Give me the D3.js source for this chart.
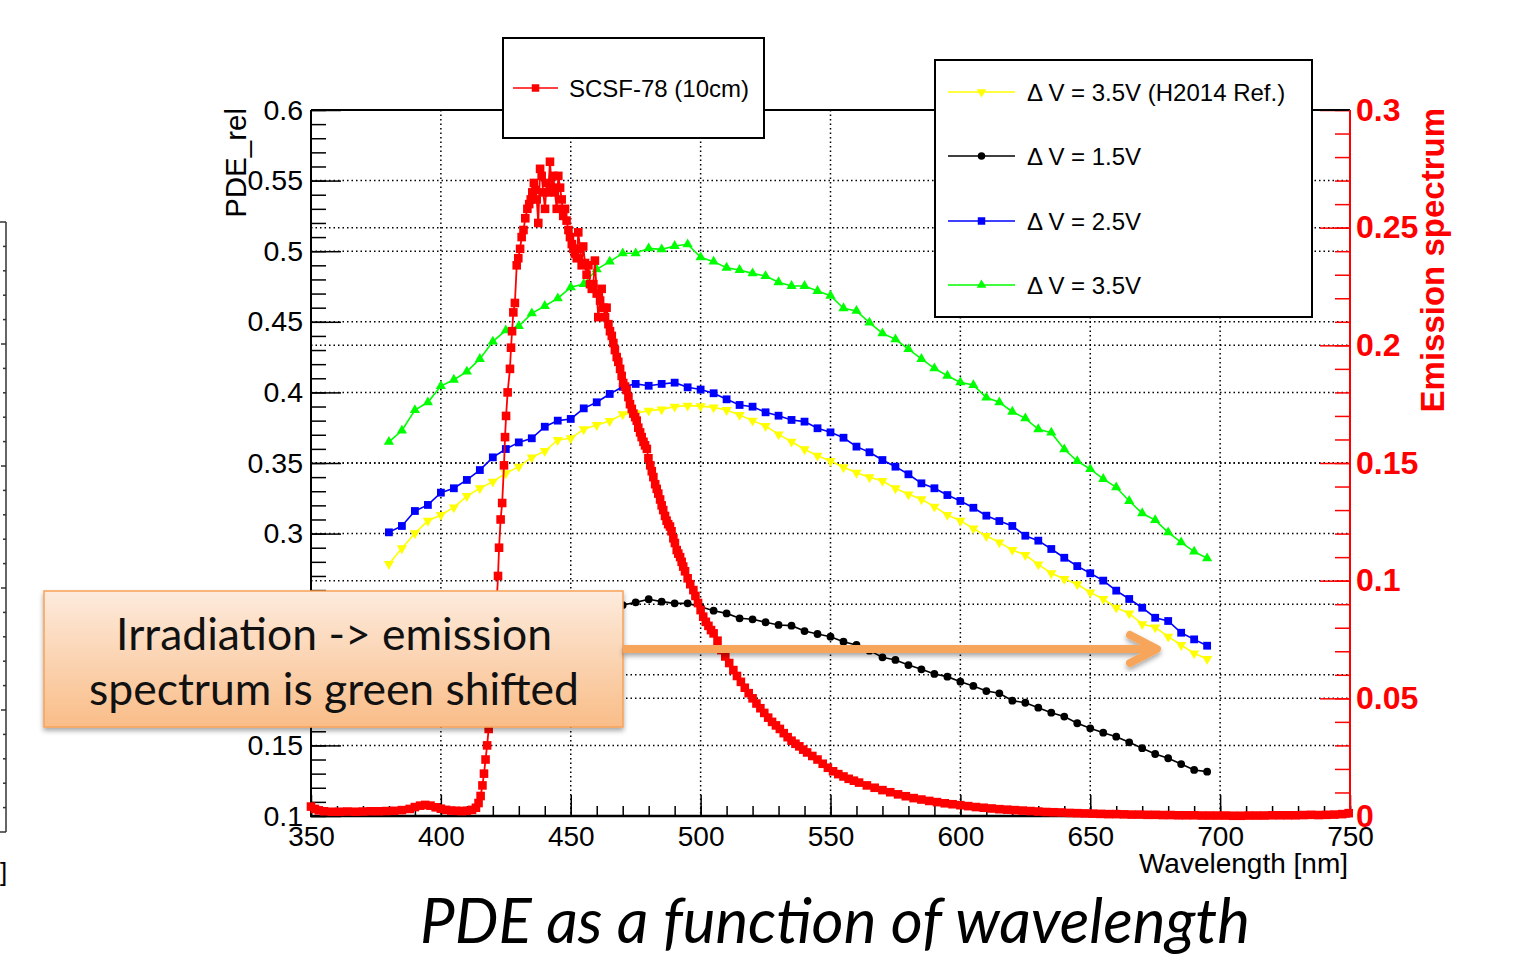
<!DOCTYPE html>
<html>
<head>
<meta charset="utf-8">
<script src="https://cdn.jsdelivr.net/npm/d3@7"></script>
<style>
body{margin:0;background:#fff;}
svg{display:block;}
</style>
</head>
<body>
<div id="chart"></div>
<script>
// PDE measurements, 5 nm steps
const pdeWl=[380,385,390,395,400,405,410,415,420,425,430,435,440,445,450,455,460,465,470,475,480,485,490,495,500,505,
    510,515,520,525,530,535,540,545,550,555,560,565,570,575,580,585,590,595,600,605,610,615,620,625,630,635,640,645,650,655,660,665,670,675,680,685,690,695];

const pdeRef35=[0.2785,0.2896,0.3002,0.3091,0.3132,0.3186,0.3266,0.3321,0.3368,0.3427,0.3474,0.3540,0.3585,0.3663,0.3675,0.3739,0.3769,0.3797,0.3845,0.3852,0.3871,0.3880,0.3899,0.3906,0.3903,0.3894,
    0.3875,0.3840,0.3800,0.3762,0.3703,0.3651,0.3597,0.3552,0.3514,0.3470,0.3431,0.3399,0.3373,0.3321,0.3278,0.3243,0.3191,0.3132,0.3091,0.3037,0.2983,0.2938,0.2884,0.2848,0.2782,0.2719,0.2678,0.2641,0.2584,0.2537,0.2475,0.2435,0.2359,0.2336,0.2270,0.2211,0.2152,0.2112];

const pde15=[0.188,0.191,0.197,0.200,0.205,0.207,0.211,0.215,0.220,0.224,0.227,0.229,0.233,0.236,0.237,0.241,0.244,0.247,
    0.2494,0.2513,0.2535,0.2518,0.2506,0.2506,0.2482,0.2454,0.2435,0.2400,0.2393,0.2372,0.2353,0.2348,0.2310,0.2289,0.2270,0.2234,0.2211,0.2171,
    0.2124,0.2105,0.2069,0.2039,0.2006,0.1987,0.1951,0.1921,0.1885,0.1869,0.1817,0.1802,0.1767,0.1732,0.1704,0.1657,0.1621,0.1590,0.1562,0.1522,
    0.1480,0.1439,0.1409,0.1368,0.1326,0.1314];

const pde25=[0.3009,0.3054,0.3160,0.3203,0.3290,0.3321,0.3380,0.3450,0.3540,0.3599,0.3646,0.3675,0.3757,0.3800,0.3812,0.3887,0.3930,0.3989,0.4040,0.4060,0.4047,0.4060,0.4069,0.4036,0.4020,0.3994,
    0.3951,0.3911,0.3899,0.3859,0.3835,0.3805,0.3793,0.3746,0.3717,0.3679,0.3616,0.3576,0.3521,0.3474,0.3420,0.3356,0.3321,0.3273,0.3231,0.3183,
    0.3127,0.3089,0.3054,0.2985,0.2950,0.2891,0.2829,0.2770,0.2719,0.2667,0.2596,0.2537,0.2475,0.2404,0.2381,0.2298,0.2251,0.2206];

const pde35=[0.3650,0.3730,0.3875,0.3930,0.4045,0.4090,0.4147,0.4237,0.4360,0.4440,0.4470,0.4560,0.4612,0.4666,0.4744,0.4768,0.4872,0.4926,0.4985,0.4985,0.5020,0.5013,0.5037,0.5049,0.4957,0.4926,
    0.4883,0.4867,0.4843,0.4824,0.4780,0.4754,0.4754,0.4718,0.4685,0.4596,0.4577,0.4494,0.4418,0.4376,0.4307,0.4237,0.4170,0.4118,0.4071,0.4052,
    0.3963,0.3930,0.3863,0.3816,0.3739,0.3715,0.3597,0.3514,0.3457,0.3387,0.3328,0.3231,0.3144,0.3096,0.3009,0.2938,0.2872,0.2825];

// SCSF-78 emission spectrum (right axis)
const emWl=[350,351.5,353,355,358,361,364,367,370,373,376,379,382,385,388,390,392,394,396,398,400,402,404,406,408,410,412,413.5,414.5,415.3,
    416,416.6,417.2,417.8,418.4,419,419.6,420.2,420.8,421.4,422,422.4,423,423.6,424.3,424.7,425.1,425.7,426.6,427,427.4,427.9,428.5,429.2,429.8,
    430.5,431.1,431.8,432.5,433.3,434,434.6,435.2,435.8,436.4,436.9,437.5,438.2,438.8,439.4,440.1,440.7,441.3,442,442.7,443.3,443.9,444.6,
    445.2,445.9,446.5,447.1,447.8,448.4,449.1,449.7,450.4,451,451.6,452.3,452.9,453.6,454.2,454.8,455.5,456.1,456.8,457.4,458.1,458.7,459.3,
    460,460.6,461.3,461.9,462.6,463.2,463.8,464.5,465.1,465.8,466.4,467,467.7,468.3,469,469.6,470.2,470.9,471.5,472.2,472.8,473.5,474.1,474.8,
    475.4,476,476.7,477.3,478,478.6,479.3,479.9,480.6,481.2,481.8,482.5,483.1,483.7,484.4,485,485.6,486.3,486.9,487.5,488.2,488.8,489.5,490.1,
    490.8,491.4,492.1,492.7,493.3,494,495,496,497.2,498,499,500,501,502,503,504,505,506.5,508,509.5,511,512.6,514,515.5,517,518.5,520,521.5,
    523,524.5,526,527.5,529,530.5,532,533.5,535,536.5,538,539.5,541,543,545,547,549,551,553,555,557,559,561,564,567,570,573,576,579,582,585,
    588,591,594,597,600,603,606,609,612,615,618,621,624,627,630,633,636,639,642,645,648,651,654,657,660,663,666,669,672,675,678,681,684,687,
    690,693,696,699,702,705,708,711,714,717,720,723,726,729,732,735,738,741,744,747,749.5];
const emVal=[0.0040,0.0030,0.0024,0.0020,0.0018,0.0018,0.0019,0.0018,0.0019,0.0020,0.0020,0.0021,0.0022,0.0025,0.0030,0.0038,0.0044,0.0047,0.0044,0.0037,
    0.0031,0.0026,0.0023,0.0022,0.0021,0.0022,0.0026,0.0035,0.0055,0.0085,
    0.013,0.018,0.024,0.030,0.037,0.045,0.054,0.064,0.076,0.089,0.102,0.114,0.126,0.133,0.149,0.161,0.170,0.180,0.190,0.199,0.206,0.214,0.218,0.234,0.237,
    0.241,0.246,0.249,0.254,0.258,0.260,0.262,0.265,0.269,0.266,0.262,0.252,0.275,0.272,0.265,0.258,0.269,0.265,0.278,0.267,0.272,0.265,0.258,
    0.272,0.267,0.262,0.255,0.258,0.253,0.249,0.246,0.243,0.241,0.239,0.237,0.248,0.241,0.234,0.242,0.235,0.230,0.234,0.226,0.224,0.226,0.236,
    0.222,0.212,0.219,0.224,0.216,0.212,0.216,0.209,0.206,0.204,0.201,0.198,0.195,0.193,0.190,0.187,0.184,0.1825,0.181,0.178,0.175,0.173,0.171,0.1695,
    0.168,0.165,0.163,0.161,0.159,0.1575,0.156,0.152,0.149,0.1465,0.144,0.141,0.139,0.137,0.1345,0.132,0.130,0.1275,0.1255,0.124,0.123,0.121,0.118,0.116,
    0.113,0.1115,0.110,0.108,0.106,0.104,0.101,0.0985,0.096,0.0935,0.0905,0.0875,0.0847,0.0825,0.0808,0.079,0.0776,0.0745,0.0705,0.0678,0.065,0.062,0.0595,0.057,0.0545,0.0522,0.050,0.0478,
    0.0458,0.0438,0.0418,0.040,0.0385,0.037,0.0352,0.0335,0.032,0.0307,0.0296,0.0282,0.027,0.0255,0.024,0.0222,0.0205,0.019,0.0178,0.0168,0.0158,0.015,0.0142,0.013,0.012,0.011,0.0101,0.0092,0.0084,0.0076,0.007,
    0.0064,0.0059,0.0054,0.005,0.0046,0.0042,0.0038,0.0035,0.0032,0.0029,0.0027,0.0025,0.0023,0.0021,0.0019,0.0017,0.0016,0.0015,0.0013,0.0012,0.0011,0.001,0.0009,0.0008,0.0008,0.0007,0.0006,0.0006,0.0005,0.0005,0.0004,0.0004,0.0003,0.0003,
    0.0003,0.0002,0.0002,0.0002,0.0002,0.0001,0.0001,0.0002,0.0002,0.0002,0.0003,0.0003,0.0003,0.0003,0.0004,0.0005,0.0004,0.0005,0.0006,0.0008,0.0012];

const xTicks=[350,400,450,500,550,600,650,700,750];
const yLeftTicks=[0.1,0.15,0.2,0.25,0.3,0.35,0.4,0.45,0.5,0.55,0.6];
const yLeftLabels=["0.1","0.15","0.2","0.25","0.3","0.35","0.4","0.45","0.5","0.55","0.6"];
const yRightTicks=[0,0.05,0.1,0.15,0.2,0.25,0.3];
const yRightLabels=["0","0.05","0.1","0.15","0.2","0.25","0.3"];

const pdeSeries=[
    {name:"\u0394 V = 3.5V (H2014 Ref.)",values:pdeRef35,color:"#ffff00",marker:"down"},
    {name:"\u0394 V = 1.5V",values:pde15,color:"#000000",marker:"circle"},
    {name:"\u0394 V = 2.5V",values:pde25,color:"#0000ff",marker:"square"},
    {name:"\u0394 V = 3.5V",values:pde35,color:"#00ff00",marker:"up"}
];

const W=1526,H=955;
const rootFont="'Liberation Sans', Arial, Helvetica, sans-serif";

const svg=d3.select("#chart")
    .append("svg")
    .attr("width",W)
    .attr("height",H);

svg.append("rect").attr("width",W).attr("height",H).attr("fill","white");

const defs=svg.append("defs");

const x=d3.scaleLinear().domain([350,750]).range([311,1350]);
const yL=d3.scaleLinear().domain([0.1,0.6]).range([816,110]);
const yR=d3.scaleLinear().domain([0,0.3]).range([816,110]);

// grid
const grid=svg.append("g")
    .attr("stroke","#000")
    .attr("stroke-width",1.5)
    .attr("stroke-dasharray","1.5,3");

grid.selectAll(".gx").data(xTicks.filter(d=>d>350&&d<750)).enter()
    .append("line").attr("class","gx")
    .attr("x1",d=>x(d)).attr("x2",d=>x(d)).attr("y1",110).attr("y2",816);

grid.selectAll(".gl").data(yLeftTicks.filter(d=>d>0.1&&d<0.6)).enter()
    .append("line").attr("class","gl")
    .attr("x1",311).attr("x2",1350).attr("y1",d=>yL(d)).attr("y2",d=>yL(d));

grid.selectAll(".gr").data(yRightTicks.filter(d=>d>0&&d<0.3)).enter()
    .append("line").attr("class","gr")
    .attr("x1",311).attr("x2",1350).attr("y1",d=>yR(d)).attr("y2",d=>yR(d));

// axes
function tidy(g,color,width){
    g.select(".domain").remove();
    g.selectAll("line").attr("stroke",color).attr("stroke-width",width);
}

svg.append("g").attr("transform","translate(0,816)")
    .call(d3.axisBottom(x).tickValues(d3.range(350,751,10)).tickSize(-10).tickFormat(""))
    .call(g=>tidy(g,"#000",1.5));

svg.append("g").attr("transform","translate(0,816)")
    .call(d3.axisBottom(x).tickValues(xTicks).tickSize(-21).tickPadding(10).tickFormat(d3.format("d")))
    .call(g=>tidy(g,"#000",1.5))
    .call(g=>g.selectAll("text").attr("font-family",rootFont).attr("font-size",28).attr("fill","#000"));

svg.append("g").attr("transform","translate(311,0)")
    .call(d3.axisLeft(yL).tickValues(d3.range(10,61).map(d=>d/100)).tickSize(-15).tickFormat(""))
    .call(g=>tidy(g,"#000",1.5));

svg.append("g").attr("transform","translate(311,0)")
    .call(d3.axisLeft(yL).tickValues(yLeftTicks).tickSize(-30).tickPadding(8).tickFormat((d,i)=>yLeftLabels[i]))
    .call(g=>tidy(g,"#000",1.5))
    .call(g=>g.selectAll("text").attr("font-family",rootFont).attr("font-size",28.5).attr("fill","#000"));

svg.append("g").attr("transform","translate(1350,0)")
    .call(d3.axisRight(yR).tickValues(d3.range(0,31).map(d=>d/100)).tickSize(-15).tickFormat(""))
    .call(g=>tidy(g,"#ff0000",1.5));

svg.append("g").attr("transform","translate(1350,0)")
    .call(d3.axisRight(yR).tickValues(yRightTicks).tickSize(-30).tickPadding(6).tickFormat((d,i)=>yRightLabels[i]))
    .call(g=>tidy(g,"#ff0000",1.5))
    .call(g=>g.selectAll("text").attr("font-family",rootFont).attr("font-size",32).attr("font-weight","bold").attr("fill","#ff0000"));

// frame
svg.append("line").attr("x1",311).attr("x2",1350).attr("y1",110).attr("y2",110).attr("stroke","#000").attr("stroke-width",2);
svg.append("line").attr("x1",310).attr("x2",1350).attr("y1",816).attr("y2",816).attr("stroke","#000").attr("stroke-width",2.5);
svg.append("line").attr("x1",311).attr("x2",311).attr("y1",110).attr("y2",817).attr("stroke","#000").attr("stroke-width",2);
svg.append("line").attr("x1",1350).attr("x2",1350).attr("y1",110).attr("y2",817).attr("stroke","#ff0000").attr("stroke-width",2);

// axis titles
svg.append("text").attr("x",1348).attr("y",873).attr("text-anchor","end")
    .attr("font-family",rootFont).attr("font-size",28).text("Wavelength [nm]");

svg.append("text").attr("transform","translate(246,108) rotate(-90)").attr("text-anchor","end")
    .attr("font-family",rootFont).attr("font-size",29.5).text("PDE_rel");

svg.append("text").attr("transform","translate(1444,108) rotate(-90)").attr("text-anchor","end")
    .attr("font-family",rootFont).attr("font-size",33).attr("font-weight","bold").attr("fill","#ff0000").text("Emission spectrum");

// markers
function markerPath(type,size){
    if(type==="circle") return d3.symbol(d3.symbolCircle,size*size*0.785)();
    if(type==="square") return d3.symbol(d3.symbolSquare,size*size)();
    return d3.symbol(d3.symbolTriangle,size*size*0.5)();
}

function drawMarkers(g,pts,type,color,size){
    g.selectAll("path.m").data(pts).enter()
        .append("path").attr("class","m")
        .attr("d",markerPath(type,size))
        .attr("transform",d=>"translate("+d[0]+","+d[1]+")"+(type==="down"?" rotate(180)":""))
        .attr("fill",color);
}

const line=d3.line();

pdeSeries.forEach(s=>{
    const pts=pdeWl.map((w,i)=>[x(w),yL(s.values[i])]);
    const g=svg.append("g");
    g.append("path").attr("d",line(pts)).attr("fill","none").attr("stroke",s.color).attr("stroke-width",1.6);
    drawMarkers(g,pts,s.marker,s.color,s.marker==="circle"?7.8:(s.marker==="square"?7.8:9.5));
});

// emission spectrum
const emPts=emWl.map((w,i)=>[x(w),yR(emVal[i])]);
const emG=svg.append("g");
emG.append("path").attr("d",line(emPts)).attr("fill","none").attr("stroke","#ff0000").attr("stroke-width",1.8);
drawMarkers(emG,emPts,"square","#ff0000",8.6);

// legends
function legendBox(x0,y0,w,h){
    svg.append("rect").attr("x",x0).attr("y",y0).attr("width",w).attr("height",h)
        .attr("fill","white").attr("stroke","#000").attr("stroke-width",2);
}

function legendEntry(x0,x1,yy,color,type,label,tx){
    const g=svg.append("g");
    g.append("line").attr("x1",x0).attr("x2",x1).attr("y1",yy).attr("y2",yy).attr("stroke",color).attr("stroke-width",1.6);
    drawMarkers(g,[[(x0+x1)/2,yy]],type,color,type==="circle"?7.5:(type==="square"?7.5:9));
    g.append("text").attr("x",tx).attr("y",yy+9).attr("font-family",rootFont).attr("font-size",24).attr("fill","#000").text(label);
}

legendBox(503,38,261,100);
legendEntry(513,558,88,"#ff0000","square","SCSF-78 (10cm)",569);

legendBox(935,60,377,257);
const legendRows=[92,156,221,285];
pdeSeries.forEach((s,i)=>legendEntry(948,1015,legendRows[i],s.color,s.marker,s.name,1027));

// annotation box
const grad=defs.append("linearGradient").attr("id","boxGrad").attr("x1",0).attr("x2",0).attr("y1",0).attr("y2",1);
grad.append("stop").attr("offset","0%").attr("stop-color","#fdebdd");
grad.append("stop").attr("offset","100%").attr("stop-color","#f9bd88");

const shadow=defs.append("filter").attr("id","shadow").attr("x","-10%").attr("y","-20%").attr("width","130%").attr("height","150%");
shadow.append("feDropShadow").attr("dx",0).attr("dy",3).attr("stdDeviation",2.5).attr("flood-color","#000").attr("flood-opacity",0.35);

svg.append("rect").attr("x",44).attr("y",591).attr("width",579).attr("height",136)
    .attr("fill","url(#boxGrad)").attr("stroke","#f7a257").attr("stroke-width",1.5)
    .attr("filter","url(#shadow)");

const annFont="Lato, 'Open Sans', sans-serif";
const l1=svg.append("text").attr("x",334).attr("y",650).attr("text-anchor","middle")
    .attr("font-family",annFont).attr("font-size",40).attr("fill","#111").text("Irradiation -> emission");
const l2=svg.append("text").attr("x",334).attr("y",705).attr("text-anchor","middle")
    .attr("font-family",annFont).attr("font-size",40).attr("fill","#111").text("spectrum is green shifted");

function fitWidth(t,w){
    const len=t.node().getComputedTextLength();
    t.attr("font-size",(+t.attr("font-size"))*w/len);
}
fitWidth(l2,490);
l1.attr("font-size",l2.attr("font-size"));

// arrow
const arrow=svg.append("g").attr("filter","url(#shadow)")
    .attr("stroke","#f6a55a").attr("stroke-width",8).attr("fill","none");
arrow.append("line").attr("x1",623).attr("x2",1152).attr("y1",649).attr("y2",649);
arrow.append("path").attr("d","M1130,635 L1157,649 L1130,663")
    .attr("stroke-linecap","round").attr("stroke-linejoin","round");

// caption
const cap=svg.append("text").attr("x",835).attr("y",943).attr("text-anchor","middle")
    .attr("font-family",annFont).attr("font-style","italic").attr("font-size",56).attr("fill","#000")
    .text("PDE as a function of wavelength");
fitWidth(cap,830);

// fragment of the neighbouring plot on the left edge
const frag=svg.append("g").attr("stroke","#333").attr("stroke-width",1.5);
frag.append("line").attr("x1",6).attr("x2",6).attr("y1",222).attr("y2",832);
frag.append("line").attr("x1",0).attr("x2",6).attr("y1",222).attr("y2",222);
frag.append("line").attr("x1",0).attr("x2",6).attr("y1",832).attr("y2",832);
const fragScale=d3.scaleLinear().domain([0,25]).range([832,222]);
frag.selectAll(".ft").data(d3.range(1,25)).enter()
    .append("line").attr("class","ft")
    .attr("x1",d=>d%5===0?1:3).attr("x2",6)
    .attr("y1",d=>fragScale(d)).attr("y2",d=>fragScale(d));
svg.append("text").attr("x",0).attr("y",881).attr("font-family",rootFont).attr("font-size",26).text("]");
</script>
</body>
</html>
